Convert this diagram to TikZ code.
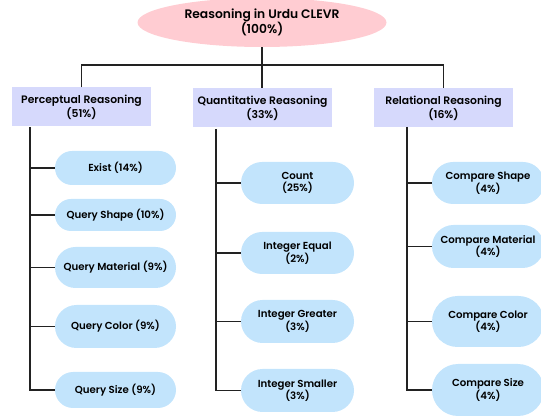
\documentclass[tikz,border=0pt]{standalone}
\usepackage{fontspec}
\setmainfont{Poppins}[UprightFont={* SemiBold}]
\usetikzlibrary{shapes.geometric,shapes.misc}

\definecolor{rootpink}{RGB}{255,204,210}
\definecolor{catlav}{RGB}{214,217,252}
\definecolor{leafblue}{RGB}{194,228,252}
\definecolor{linegray}{RGB}{34,34,34}

\tikzset{
  rootnode/.style={ellipse, fill=rootpink, minimum width=249pt, minimum height=49pt,
    align=center, font=\fontsize{12.3}{15}\selectfont},
  catnode/.style={rectangle, fill=catlav, minimum width=139pt, minimum height=39pt,
    align=center, font=\fontsize{10.8}{14}\selectfont},
  leafnode/.style={rounded rectangle, fill=leafblue, align=center, inner sep=2pt,
    font=\fontsize{10.2}{12.5}\selectfont},
  link/.style={draw=linegray, line width=1.3pt}
}

\begin{document}
\begin{tikzpicture}[x=1pt,y=-1pt]
\useasboundingbox (0,0) rectangle (541,419);

% root and categories
\node[rootnode] (root) at (262,22.5) {Reasoning in Urdu CLEVR\\(100\%)};
\node[catnode] (perc) at (81.5,107) {Perceptual Reasoning\\(51\%)};
\node[catnode] (quant) at (262.5,108) {Quantitative Reasoning\\(33\%)};
\node[catnode] (rel) at (443.5,108) {Relational Reasoning\\(16\%)};

% perceptual leaves
\node[leafnode, minimum width=125pt, minimum height=34pt] (pexist) at (115.5,168) {Exist (14\%)};
\node[leafnode, minimum width=125pt, minimum height=32pt] (pshape) at (115.5,215) {Query Shape (10\%)};
\node[leafnode, minimum width=125pt, minimum height=41pt] (pmat) at (115.5,267.5) {Query Material (9\%)};
\node[leafnode, minimum width=125pt, minimum height=43pt] (pcol) at (115.5,326.5) {Query Color (9\%)};
\node[leafnode, minimum width=125pt, minimum height=36pt] (psize) at (115.5,390) {Query Size (9\%)};

% quantitative leaves
\node[leafnode, minimum width=117pt, minimum height=42pt] (qcount) at (297.5,183) {Count\\(25\%)};
\node[leafnode, minimum width=117pt, minimum height=42pt] (qequal) at (297.5,253) {Integer Equal\\(2\%)};
\node[leafnode, minimum width=117pt, minimum height=43pt] (qgreat) at (297.5,321.5) {Integer Greater\\(3\%)};
\node[leafnode, minimum width=117pt, minimum height=43pt] (qsmall) at (297.5,390.5) {Integer Smaller\\(3\%)};

% relational leaves
\node[leafnode, minimum width=116pt, minimum height=42pt] (rshape) at (488,183) {Compare Shape\\(4\%)};
\node[leafnode, minimum width=116pt, minimum height=43pt] (rmat) at (488,246.5) {Compare Material\\(4\%)};
\node[leafnode, minimum width=116pt, minimum height=51pt] (rcol) at (488,321.5) {Compare Color\\(4\%)};
\node[leafnode, minimum width=116pt, minimum height=52pt] (rsize) at (488,390) {Compare Size\\(4\%)};

% top connectors
\coordinate (hub) at (262,65);
\draw[link] (root.south) -- (hub);
\draw[link] (perc.north) |- (hub) -| (rel.north);
\draw[link] (hub) -- (quant.north -| hub);

% trunks and branches
\coordinate (ptrunk) at (30,127);
\coordinate (qtrunk) at (216,129);
\coordinate (rtrunk) at (407,127);
\draw[link] (ptrunk) |- (psize.west);
\draw[link] (qtrunk) |- (qsmall.west);
\draw[link] (rtrunk) |- (rsize.west);
\foreach \leaf in {pexist,pshape,pmat,pcol}
  \draw[link] (ptrunk |- \leaf.west) -- (\leaf.west);
\foreach \leaf in {qcount,qequal,qgreat}
  \draw[link] (qtrunk |- \leaf.west) -- (\leaf.west);
\foreach \leaf in {rshape,rmat,rcol}
  \draw[link] (rtrunk |- \leaf.west) -- (\leaf.west);
\end{tikzpicture}
\end{document}
